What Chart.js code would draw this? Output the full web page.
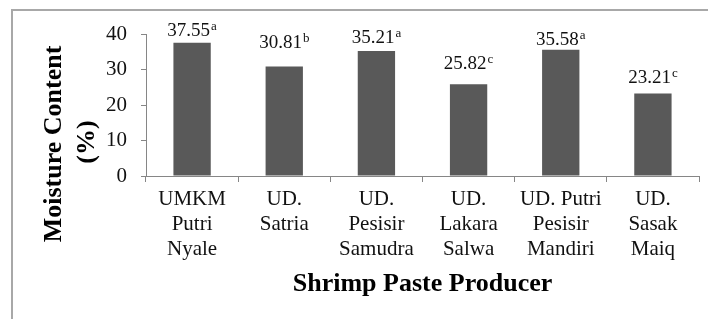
<!DOCTYPE html>
<html>
<head>
<meta charset="utf-8">
<script src="https://cdn.jsdelivr.net/npm/chart.js@4/dist/chart.umd.min.js"></script>
<style>
    html, body { margin: 0; padding: 0; background: #fff; }
    #wrap { position: relative; width: 708px; height: 319px; overflow: hidden; }
    #frame { position: absolute; left: 11px; top: 9px; width: 800px; height: 400px;
             border-left: 2px solid #a8a8a8; border-top: 2px solid #a8a8a8; }
    canvas { position: absolute; left: 0; top: 0; }
</style>
</head>
<body>
<div id="wrap">
    <div id="frame"></div>
    <canvas id="moistureChart" width="708" height="319"></canvas>
</div>
<script>
// Moisture content per shrimp paste producer
const producers = [
    ['UMKM', 'Putri', 'Nyale'],
    ['UD.', 'Satria'],
    ['UD.', 'Pesisir', 'Samudra'],
    ['UD.', 'Lakara', 'Salwa'],
    ['UD. Putri', 'Pesisir', 'Mandiri'],
    ['UD.', 'Sasak', 'Maiq']
];
const moisture = [37.55, 30.81, 35.21, 25.82, 35.58, 23.21];
const groupLetters = ['a', 'b', 'a', 'c', 'a', 'c'];
const yTicks = [0, 10, 20, 30, 40];

const serif = "'Liberation Serif', 'Times New Roman', serif";

// value labels with superscript letters above each bar
const valueLabels = {
    id: 'valueLabels',
    afterDatasetsDraw(chart, args, opts) {
        const ctx = chart.ctx;
        const meta = chart.getDatasetMeta(0);
        ctx.save();
        ctx.fillStyle = '#111';
        ctx.textBaseline = 'alphabetic';
        meta.data.forEach(function(bar, i) {
            const num = moisture[i].toFixed(2);
            const sup = groupLetters[i];
            ctx.font = '19px ' + serif;
            const w1 = ctx.measureText(num).width;
            ctx.font = '13px ' + serif;
            const w2 = ctx.measureText(sup).width;
            const left = bar.x - (w1 + 1 + w2) / 2;
            const base = bar.y - opts.gaps[i];
            ctx.textAlign = 'left';
            ctx.font = '19px ' + serif;
            ctx.fillText(num, left, base);
            ctx.font = '13px ' + serif;
            ctx.fillText(sup, left + w1 + 1, base - 6);
        });
        ctx.restore();
    }
};

// rotated y axis title, two lines
const yTitle = {
    id: 'yTitle',
    afterDraw(chart) {
        const ctx = chart.ctx;
        const area = chart.chartArea;
        const cy = (area.top + area.bottom) / 2 + 39;
        ctx.save();
        ctx.fillStyle = '#000';
        ctx.font = 'bold 26px ' + serif;
        ctx.textAlign = 'center';
        ctx.textBaseline = 'middle';
        ctx.translate(area.left - 92, cy);
        ctx.rotate(-Math.PI / 2);
        ctx.fillText('Moisture Content', 0, 0);
        ctx.restore();
        ctx.save();
        ctx.fillStyle = '#000';
        ctx.font = 'bold 26px ' + serif;
        ctx.textAlign = 'center';
        ctx.textBaseline = 'middle';
        ctx.translate(area.left - 59, cy - 2);
        ctx.rotate(-Math.PI / 2);
        ctx.fillText('(%)', 0, 0);
        ctx.restore();
    }
};

new Chart(document.getElementById('moistureChart').getContext('2d'), {
    type: 'bar',
    data: {
        labels: producers,
        datasets: [{
            label: 'Moisture Content (%)',
            data: moisture,
            backgroundColor: '#595959',
            borderWidth: 0,
            categoryPercentage: 1,
            barPercentage: 0.405
        }]
    },
    plugins: [valueLabels, yTitle],
    options: {
        responsive: false,
        animation: false,
        layout: {
            padding: { left: 0, right: 9, top: 34, bottom: 0 }
        },
        plugins: {
            legend: { display: false },
            tooltip: { enabled: false },
            valueLabels: { gaps: [7, 19, 8, 15, 5, 11] }
        },
        scales: {
            x: {
                afterFit: function(scale) { scale.height = 143; },
                border: { color: '#868686', width: 1 },
                grid: {
                    drawOnChartArea: false,
                    color: '#868686',
                    tickLength: 6
                },
                ticks: {
                    color: '#111',
                    padding: 5,
                    maxRotation: 0,
                    autoSkip: false,
                    font: { family: serif, size: 21, lineHeight: 1.19 }
                },
                title: {
                    display: true,
                    text: 'Shrimp Paste Producer',
                    color: '#000',
                    padding: { top: 4, bottom: 19 },
                    font: { family: serif, size: 26, weight: 'bold', lineHeight: 1.2 }
                }
            },
            y: {
                min: 0,
                max: 40,
                afterFit: function(scale) { scale.width = 146; },
                afterBuildTicks: function(scale) {
                    scale.ticks = yTicks.map(function(v) { return { value: v }; });
                },
                border: { color: '#868686', width: 1 },
                grid: {
                    drawOnChartArea: false,
                    color: '#868686',
                    tickLength: 5
                },
                ticks: {
                    color: '#111',
                    padding: 14,
                    font: { family: serif, size: 21 }
                }
            }
        }
    }
});
</script>
</body>
</html>
